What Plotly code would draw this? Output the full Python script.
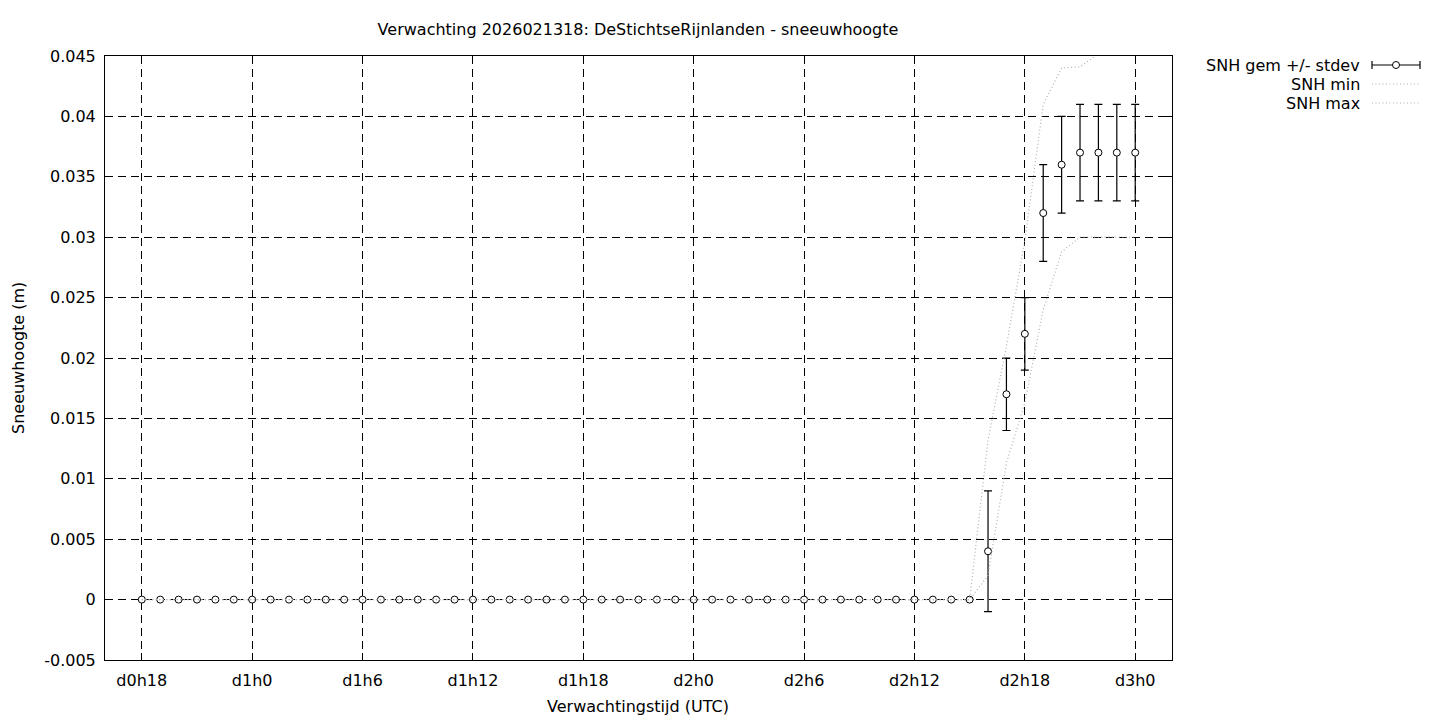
import plotly.graph_objects as go

# ---- data -------------------------------------------------------------
# forecast hour (hours since d0h0)
hours = [18, 19, 20, 21, 22, 23, 24, 25, 26, 27, 28, 29, 30, 31, 32, 33, 34, 35,
         36, 37, 38, 39, 40, 41, 42, 43, 44, 45, 46, 47, 48, 49, 50, 51, 52, 53,
         54, 55, 56, 57, 58, 59, 60, 61, 62, 63, 64, 65, 66, 67, 68, 69, 70, 71, 72]

snh_mean = [0, 0, 0, 0, 0, 0, 0, 0, 0, 0, 0, 0, 0, 0, 0, 0, 0, 0,
            0, 0, 0, 0, 0, 0, 0, 0, 0, 0, 0, 0, 0, 0, 0, 0, 0, 0,
            0, 0, 0, 0, 0, 0, 0, 0, 0, 0,
            0.004, 0.017, 0.022, 0.032, 0.036, 0.037, 0.037, 0.037, 0.037]

snh_std = [0, 0, 0, 0, 0, 0, 0, 0, 0, 0, 0, 0, 0, 0, 0, 0, 0, 0,
           0, 0, 0, 0, 0, 0, 0, 0, 0, 0, 0, 0, 0, 0, 0, 0, 0, 0,
           0, 0, 0, 0, 0, 0, 0, 0, 0, 0,
           0.005, 0.003, 0.003, 0.004, 0.004, 0.004, 0.004, 0.004, 0.004]

snh_min = [0, 0, 0, 0, 0, 0, 0, 0, 0, 0, 0, 0, 0, 0, 0, 0, 0, 0,
           0, 0, 0, 0, 0, 0, 0, 0, 0, 0, 0, 0, 0, 0, 0, 0, 0, 0,
           0, 0, 0, 0, 0, 0, 0, 0, 0, 0,
           0.002, 0.0113, 0.0163, 0.024, 0.0288, 0.030, 0.030, 0.030, 0.030]

snh_max = [0, 0, 0, 0, 0, 0, 0, 0, 0, 0, 0, 0, 0, 0, 0, 0, 0, 0,
           0, 0, 0, 0, 0, 0, 0, 0, 0, 0, 0, 0, 0, 0, 0, 0, 0, 0,
           0, 0, 0, 0, 0, 0, 0, 0, 0, 0,
           0.0132, 0.021, 0.0297, 0.041, 0.044, 0.0441, 0.0452, 0.046, 0.046]

x_tickvals = [18, 24, 30, 36, 42, 48, 54, 60, 66, 72]
x_ticktext = ["d0h18", "d1h0", "d1h6", "d1h12", "d1h18",
              "d2h0", "d2h6", "d2h12", "d2h18", "d3h0"]
y_tickvals = [-0.005, 0, 0.005, 0.01, 0.015, 0.02, 0.025, 0.03, 0.035, 0.04, 0.045]
y_ticktext = ["-0.005", "0", "0.005", "0.01", "0.015", "0.02",
              "0.025", "0.03", "0.035", "0.04", "0.045"]

title_text = "Verwachting 2026021318: DeStichtseRijnlanden - sneeuwhoogte"
legend_names = ["SNH gem +/- stdev", "SNH min", "SNH max"]

# ---- layout geometry (pixels) ------------------------------------------
W, H = 1440, 720
L, R, T, B = 105, 1172, 56, 660
FONT = "DejaVu Sans"
FS = 16
GREY = "#b0b0b0"


def px(xp):
    return (xp - L) / (R - L)


def py(yp):
    return (B - yp) / (B - T)


fig = go.Figure()

fig.add_trace(go.Scatter(
    x=hours, y=snh_mean, mode="markers", name=legend_names[0],
    marker=dict(symbol="circle", size=7, color="white",
                line=dict(color="black", width=1)),
    error_y=dict(type="data", array=snh_std, symmetric=True,
                 color="black", thickness=1.2, width=4),
    showlegend=False,
))
fig.add_trace(go.Scatter(
    x=hours, y=snh_min, mode="lines", name=legend_names[1],
    line=dict(color=GREY, width=1.2, dash="1px,2.5px"), showlegend=False,
))
fig.add_trace(go.Scatter(
    x=hours, y=snh_max, mode="lines", name=legend_names[2],
    line=dict(color=GREY, width=1.2, dash="1px,2.5px"), showlegend=False,
))

axis_common = dict(
    showline=True, linecolor="black", linewidth=1, mirror="ticks",
    ticks="inside", ticklen=7, tickcolor="black", tickwidth=1,
    showgrid=True, gridcolor="black", gridwidth=1, griddash="8px,5px",
    zeroline=False, tickfont=dict(family=FONT, size=FS, color="black"),
)

fig.update_xaxes(range=[16, 74], tickmode="array", tickvals=x_tickvals,
                 ticktext=x_ticktext, ticklabelstandoff=6, **axis_common)
fig.update_yaxes(range=[-0.005, 0.045], tickmode="array", tickvals=y_tickvals,
                 ticktext=y_ticktext, ticklabelstandoff=5, **axis_common)

annotations = [
    dict(text="Sneeuwhoogte (m)", xref="paper", yref="paper",
         x=px(18), y=py(358), textangle=-90, showarrow=False,
         xanchor="center", yanchor="middle",
         font=dict(family=FONT, size=FS, color="black")),
    dict(text="Verwachtingstijd (UTC)", xref="paper", yref="paper",
         x=px(638), y=py(706), showarrow=False,
         xanchor="center", yanchor="middle",
         font=dict(family=FONT, size=FS, color="black")),
]

shapes = []
rows_y = [65, 84, 103]
for name, ry in zip(legend_names, rows_y):
    annotations.append(dict(
        text=name, xref="paper", yref="paper", x=px(1362), y=py(ry),
        xanchor="right", yanchor="middle", showarrow=False,
        font=dict(family=FONT, size=FS, color="black")))

# legend sample: error bar with circle
y0 = py(rows_y[0])
shapes.append(dict(type="line", xref="paper", yref="paper",
                   x0=px(1372), x1=px(1420), y0=y0, y1=y0,
                   line=dict(color="black", width=1.2)))
for xc in (1372, 1420):
    shapes.append(dict(type="line", xref="paper", yref="paper",
                       x0=px(xc), x1=px(xc), y0=py(rows_y[0] - 4), y1=py(rows_y[0] + 4),
                       line=dict(color="black", width=1.2)))
shapes.append(dict(type="circle", xref="paper", yref="paper",
                   xsizemode="pixel", ysizemode="pixel",
                   xanchor=px(1396), yanchor=y0,
                   x0=-3.5, x1=3.5, y0=-3.5, y1=3.5,
                   fillcolor="white", line=dict(color="black", width=1)))
for ry in rows_y[1:]:
    shapes.append(dict(type="line", xref="paper", yref="paper",
                       x0=px(1372), x1=px(1420), y0=py(ry), y1=py(ry),
                       line=dict(color=GREY, width=1.2, dash="1px,2.5px")))

fig.update_layout(
    width=W, height=H,
    margin=dict(l=L, r=W - R, t=T, b=H - B, autoexpand=False),
    paper_bgcolor="white", plot_bgcolor="white",
    title=dict(text=title_text, x=px(638), xref="paper", xanchor="center",
               y=1 - 29 / H, yref="container", yanchor="middle",
               font=dict(family=FONT, size=FS, color="black")),
    font=dict(family=FONT, size=FS, color="black"),
    annotations=annotations, shapes=shapes,
    showlegend=False,
)

fig.write_html(
    "out.html",
    config={"displayModeBar": False},
    post_script="document.body.style.margin='0';document.body.style.overflow='hidden';",
)
